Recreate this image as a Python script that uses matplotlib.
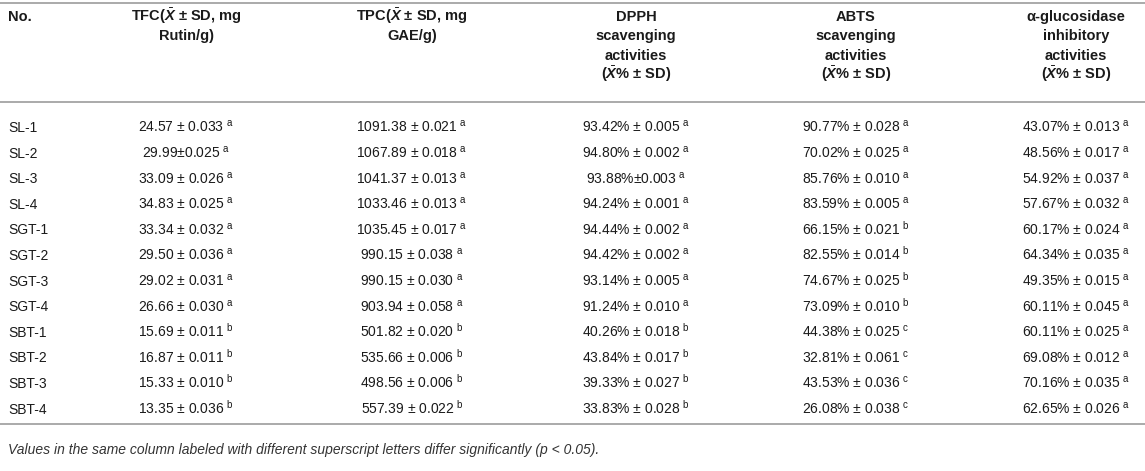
import matplotlib
matplotlib.use("Agg")
import matplotlib.pyplot as plt

# mathtext: sans for superscripts, bold italic for the X-bar in headers
plt.rcParams['font.family'] = ['Liberation Sans', 'DejaVu Sans']
plt.rcParams['mathtext.fontset'] = 'custom'
plt.rcParams['mathtext.rm'] = 'Liberation Sans'
plt.rcParams['mathtext.it'] = 'Liberation Sans:italic:bold'
plt.rcParams['mathtext.bf'] = 'Liberation Sans:bold'

samples = ["SL-1", "SL-2", "SL-3", "SL-4", "SGT-1", "SGT-2", "SGT-3", "SGT-4",
           "SBT-1", "SBT-2", "SBT-3", "SBT-4"]

tfc = ["24.57 ± 0.033", "29.99±0.025", "33.09 ± 0.026", "34.83 ± 0.025",
       "33.34 ± 0.032", "29.50 ± 0.036", "29.02 ± 0.031", "26.66 ± 0.030",
       "15.69 ± 0.011", "16.87 ± 0.011", "15.33 ± 0.010", "13.35 ± 0.036"]
tfc_sig = list("aaaaaaaabbbb")

tpc = ["1091.38 ± 0.021", "1067.89 ± 0.018", "1041.37 ± 0.013", "1033.46 ± 0.013",
       "1035.45 ± 0.017", "990.15 ± 0.038", "990.15 ± 0.030", "903.94 ± 0.058",
       "501.82 ± 0.020", "535.66 ± 0.006", "498.56 ± 0.006", "557.39 ± 0.022"]
tpc_sig = list("aaaaaaaabbbb")

dpph = ["93.42% ± 0.005", "94.80% ± 0.002", "93.88%±0.003", "94.24% ± 0.001",
        "94.44% ± 0.002", "94.42% ± 0.002", "93.14% ± 0.005", "91.24% ± 0.010",
        "40.26% ± 0.018", "43.84% ± 0.017", "39.33% ± 0.027", "33.83% ± 0.028"]
dpph_sig = list("aaaaaaaabbbb")

abts = ["90.77% ± 0.028", "70.02% ± 0.025", "85.76% ± 0.010", "83.59% ± 0.005",
        "66.15% ± 0.021", "82.55% ± 0.014", "74.67% ± 0.025", "73.09% ± 0.010",
        "44.38% ± 0.025", "32.81% ± 0.061", "43.53% ± 0.036", "26.08% ± 0.038"]
abts_sig = list("aaaabbbbcccc")

glu = ["43.07% ± 0.013", "48.56% ± 0.017", "54.92% ± 0.037", "57.67% ± 0.032",
       "60.17% ± 0.024", "64.34% ± 0.035", "49.35% ± 0.015", "60.11% ± 0.045",
       "60.11% ± 0.025", "69.08% ± 0.012", "70.16% ± 0.035", "62.65% ± 0.026"]
glu_sig = list("aaaaaaaaaaaa")

headers = [
    ["TFC($\\bar{X}$ ± SD, mg", "Rutin/g)"],
    ["TPC($\\bar{X}$ ± SD, mg", "GAE/g)"],
    ["DPPH", "scavenging", "activities", "($\\bar{X}$% ± SD)"],
    ["ABTS", "scavenging", "activities", "($\\bar{X}$% ± SD)"],
    ["α-glucosidase", "inhibitory", "activities", "($\\bar{X}$% ± SD)"],
]
columns = [(tfc, tfc_sig), (tpc, tpc_sig), (dpph, dpph_sig),
           (abts, abts_sig), (glu, glu_sig)]
footnote = ("Values in the same column labeled with different superscript "
            "letters differ significantly (p < 0.05).")

W, H = 1145, 471
fig = plt.figure(figsize=(W / 100, H / 100), dpi=100)
ax = fig.add_axes([0, 0, 1, 1])
ax.set_xlim(0, W)
ax.set_ylim(H, 0)
ax.axis("off")

txt = "#1a1a1a"
rule = "#aaaaaa"
fs = 10
hfs = 10.5
col_x = [186, 412, 636, 856, 1076]
head_y = [21, 40, 60, 79]          # baselines
row_y0, row_dy = 132, 25.6         # baseline of first row, row step

for y in [3, 102, 424]:
    ax.plot([0, W], [y, y], color=rule, lw=1.4, solid_capstyle="butt")

ax.text(8, head_y[0], "No.", fontsize=hfs, fontweight="bold", color=txt,
        ha="left", va="baseline")
for x, lines in zip(col_x, headers):
    for k, s in enumerate(lines):
        ax.text(x, head_y[k], s, fontsize=hfs, fontweight="bold", color=txt,
                ha="center", va="baseline")

for i, name in enumerate(samples):
    y = row_y0 + i * row_dy
    ax.text(8, y, name, fontsize=fs, color=txt, ha="left", va="baseline")
    for x, (vals, sig) in zip(col_x, columns):
        ax.text(x, y, vals[i] + "$\\;^{\\mathrm{" + sig[i] + "}}$", fontsize=fs,
                color=txt, ha="center", va="baseline")

ax.text(8, 454, footnote, fontsize=10, style="italic", color="#333333",
        ha="left", va="baseline")

fig.savefig("out.png", dpi=100, facecolor="white")
